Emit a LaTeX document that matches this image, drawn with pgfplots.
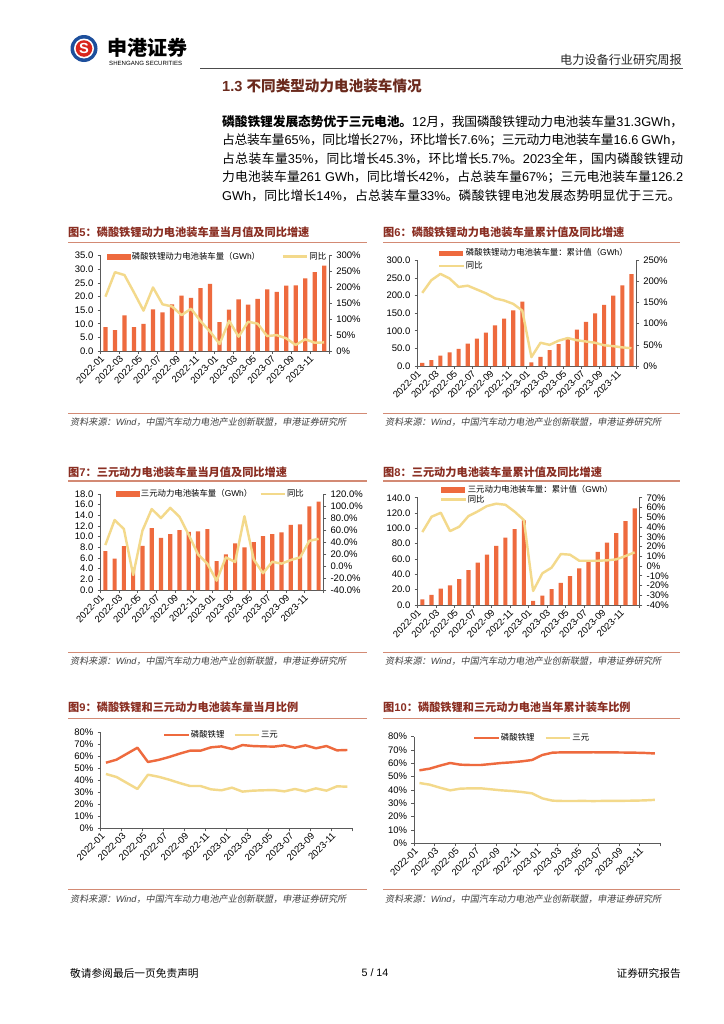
\documentclass[border=0pt]{standalone}
\usepackage{fontspec}
\setmainfont{Liberation Sans}
\newfontfamily\cjkup{Noto Sans CJK SC}
\newfontfamily\cjksl[FakeSlant=0.18]{Noto Sans CJK SC}
\usepackage{pgfplots}
\pgfplotsset{compat=1.18}
\usepackage{pgfplotstable}

% switch to the CJK font for CJK characters, back to Liberation Sans otherwise
\XeTeXinterchartokenstate=1
\newXeTeXintercharclass\cjkcls
\newcount\cjkcnt
\cjkcnt="2E80 \loop\XeTeXcharclass\cjkcnt=\cjkcls\advance\cjkcnt by 1 \ifnum\cjkcnt<"A000 \repeat
\cjkcnt="FF00 \loop\XeTeXcharclass\cjkcnt=\cjkcls\advance\cjkcnt by 1 \ifnum\cjkcnt<"FFF0 \repeat
\def\cjkfont{\cjkup}
\def\latfont{\rmfamily}
\XeTeXinterchartoks 0 \cjkcls={\cjkfont}
\XeTeXinterchartoks 4095 \cjkcls={\cjkfont}
\XeTeXinterchartoks \cjkcls 0={\latfont}
\XeTeXinterchartoks 4095 0={\latfont}
\XeTeXinterchartoks \cjkcls \cjkcls={\hskip0pt plus .08em minus .05em}

\definecolor{barc}{HTML}{EE6A3E}
\definecolor{yc}{HTML}{F3D98B}
\definecolor{titc}{HTML}{8A2E22}
\definecolor{rulec}{HTML}{D38A74}
\definecolor{axc}{HTML}{5A5A5A}
\definecolor{secc}{HTML}{6B2A1D}
\definecolor{logob}{HTML}{1D4F9C}
\definecolor{logor}{HTML}{D9261C}

\newcommand\fsz[1]{\fontsize{#1bp}{#1bp}\selectfont}
\newcommand\tickf{\fsz{7.8}}
\newcommand\legf{\fsz{6.9}}
\newcommand\src{{\let\cjkfont\cjksl\itshape 资料来源：Wind，中国汽车动力电池产业创新联盟，申港证券研究所}}

\pgfplotsset{
  pg/.style={scale only axis, anchor=south west, xmin=-0.5, xmax=23.5, enlargelimits=false,
    axis line style={axc, line width=0.6bp}, every tick/.style={axc, line width=0.6bp},
    tick align=outside, major tick length=2.5bp, minor tick length=2.5bp,
    tick label style={font=\tickf}, /pgf/number format/assume math mode=true,
    xtick={0,2,...,22},
    xticklabels={2022-01,2022-03,2022-05,2022-07,2022-09,2022-11,2023-01,2023-03,2023-05,2023-07,2023-09,2023-11},
    xticklabel style={rotate=45, anchor=east},
    major x tick style={draw=none}, minor xtick={-0.5,1.5,...,23.5},
    legend style={draw=none, fill=none, font=\legf, inner sep=0pt, nodes={inner sep=0.8bp}},
    legend cell align=left},
  barleg/.style={legend image code/.code={\fill[barc] (0bp,-2bp) rectangle (19bp,2bp);}},
  lineleg/.style={legend image code/.code={\draw (0bp,0bp) -- (20bp,0bp);}},
}

% LFP monthly (GWh) and YoY (%)
\pgfplotstableread{
x b l
0 8.8 171
1 7.7 248
2 13.1 239
3 8.8 184
4 10.0 127
5 15.3 200
6 14.2 147
7 17.1 140
8 20.3 113
9 19.5 133
10 23.1 94
11 24.6 61
12 10.6 22
13 15.2 95
14 19.0 45
15 17.0 92
16 19.1 86
17 22.6 47
18 21.7 50
19 24.0 40
20 24.1 19
21 26.7 37
22 29.0 26
23 31.3 27
}\tA
% LFP cumulative
\pgfplotstableread{
x b l
0 8.8 173
1 16.5 203
2 29.6 218
3 38.4 207
4 48.4 187
5 63.7 190
6 77.9 181
7 95.0 172
8 115.3 160
9 134.8 155
10 157.9 147
11 182.5 131
12 10.6 21
13 25.8 55
14 44.8 50
15 61.8 60
16 80.9 66
17 103.5 61
18 125.2 58
19 149.2 55
20 173.3 49
21 200.0 47
22 229.0 44
23 261.0 42
}\tB
% NCM monthly
\pgfplotstableread{
x b l
0 7.3 35
1 5.9 76.7
2 8.25 61.7
3 4.2 -15
4 8.3 59
5 11.6 95
6 9.8 80
7 10.5 97
8 11.25 82
9 10.9 51.7
10 11.0 19.4
11 11.4 3.9
12 5.4 -24.4
13 6.7 14.4
14 8.75 6.7
15 8.0 83
16 9.0 11
17 10.1 -12
18 10.5 7
19 10.8 4
20 12.2 10
21 12.3 14.4
22 15.7 42
23 16.6 45.3
}\tC
% NCM cumulative
\pgfplotstableread{
x b l
0 7.3 34.8
1 13.2 50.5
2 21.45 54.6
3 25.6 35.8
4 33.9 40.3
5 45.5 51.2
6 55.3 56
7 65.8 61.5
8 77.05 63.9
9 87.95 62.8
10 98.95 55.7
11 110.35 47.1
12 5.4 -25.6
13 12.1 -7.5
14 20.85 -1.7
15 28.85 12.3
16 37.85 11.6
17 47.95 5.4
18 58.45 5.4
19 69.25 5.4
20 81.45 5.8
21 93.75 6.8
22 109.45 10.2
23 126.2 14
}\tD
% monthly share (%)
\pgfplotstableread{
x a b
0 54.7 45.3
1 57.2 42.8
2 62.2 37.8
3 67.2 32.8
4 55.3 44.7
5 57.0 43.0
6 59.4 40.6
7 62.2 37.8
8 64.7 35.3
9 64.7 35.3
10 67.5 32.5
11 68.3 31.7
12 66.1 33.9
13 69.4 30.6
14 68.6 31.4
15 68.3 31.7
16 68.1 31.9
17 69.2 30.8
18 67.2 32.8
19 69.2 30.8
20 66.7 33.3
21 68.6 31.4
22 65.0 35.0
23 65.3 34.7
}\tE
% cumulative share (%)
\pgfplotstableread{
x a b
0 54.75 45.25
1 56.0 44.0
2 58.25 41.75
3 60.25 39.75
4 59.0 41.0
5 58.75 41.25
6 58.75 41.25
7 59.5 40.5
8 60.25 39.75
9 60.75 39.25
10 61.5 38.5
11 62.5 37.5
12 66.25 33.75
13 68.0 32.0
14 68.25 31.75
15 68.25 31.75
16 68.2 31.8
17 68.3 31.7
18 68.2 31.8
19 68.2 31.8
20 68.1 31.9
21 68.0 32.0
22 67.8 32.2
23 67.4 32.6
}\tF

\begin{document}
\begin{tikzpicture}[x=0.8223bp, y=0.8223bp]
\fill[white] (0,0) rectangle (724,-1024);
\path[use as bounding box] (0,0) rectangle (724,-1024);

% header
\fill[logob] (84,-48.5) circle (13.5);
\fill[white] (84,-48.5) circle (10);
\fill[logor] (84,-48.5) circle (8.3);
\node[text=white, font=\bfseries\fsz{12}, inner sep=0] at (84,-48.5) {S};
\node[anchor=west, font=\bfseries\fsz{16.5}, inner sep=0] at (107,-47.5) {申港证券};
\node[anchor=west, font=\fsz{5}, inner sep=0] at (109,-63) {SHENGANG SECURITIES};
\draw[black!70, line width=0.6bp] (200,-68) -- (683,-68);
\node[anchor=east, font=\fsz{10}, text=black!85, inner sep=0] at (682,-60) {电力设备行业研究周报};

% section
\node[anchor=west, font=\bfseries\fsz{12}, text=secc, inner sep=0] at (222,-86) {1.3 不同类型动力电池装车情况};
\begin{scope}[every node/.style={anchor=west, font=\fsz{10.5}, inner sep=0}]
\node at (222,-122) {\hbox to 379bp{{\bfseries 磷酸铁锂发展态势优于三元电池。}12月，我国磷酸铁锂动力电池装车量31.3GWh，}};
\node at (222,-140.5) {\hbox to 379bp{占总装车量65\%，同比增长27\%，环比增长7.6\%；三元动力电池装车量16.6 GWh，}};
\node at (222,-159) {\hbox to 379bp{占总装车量35\%，同比增长45.3\%，环比增长5.7\%。2023全年，国内磷酸铁锂动}};
\node at (222,-177.5) {\hbox to 379bp{力电池装车量261 GWh，同比增长42\%，占总装车量67\%；三元电池装车量126.2}};
\node at (222,-196) {\hbox to 377bp{GWh，同比增长14\%，占总装车量33\%。磷酸铁锂电池发展态势明显优于三元。}};
\end{scope}

% figure titles, rules and sources
\begin{scope}[every node/.style={anchor=west, inner sep=0}]
\node[font=\bfseries\fsz{9.2}, text=titc] at (68,-232.5) {图5：磷酸铁锂动力电池装车量当月值及同比增速};
\node[font=\bfseries\fsz{9.2}, text=titc] at (383,-232.5) {图6：磷酸铁锂动力电池装车量累计值及同比增速};
\node[font=\bfseries\fsz{9.2}, text=titc] at (68,-472.5) {图7：三元动力电池装车量当月值及同比增速};
\node[font=\bfseries\fsz{9.2}, text=titc] at (383,-472.5) {图8：三元动力电池装车量累计值及同比增速};
\node[font=\bfseries\fsz{9.2}, text=titc] at (68,-707.5) {图9：磷酸铁锂和三元动力电池装车量当月比例};
\node[font=\bfseries\fsz{9.2}, text=titc] at (383,-707.5) {图10：磷酸铁锂和三元动力电池当年累计装车比例};
\node[font=\fsz{7.5}, text=black!75] at (70,-422.5) {\src};
\node[font=\fsz{7.5}, text=black!75] at (385,-422.5) {\src};
\node[font=\fsz{7.5}, text=black!75] at (70,-661.5) {\src};
\node[font=\fsz{7.5}, text=black!75] at (385,-661.5) {\src};
\node[font=\fsz{7.5}, text=black!75] at (70,-899) {\src};
\node[font=\fsz{7.5}, text=black!75] at (385,-899) {\src};
\end{scope}
\foreach \yy in {242.5,481,718.3} {
  \draw[rulec, line width=1.3bp] (68,-\yy) -- (367,-\yy);
  \draw[rulec, line width=1.3bp] (383,-\yy) -- (680,-\yy);
}
\foreach \yy in {413,652,889.5} {
  \draw[rulec, line width=0.8bp] (68,-\yy) -- (367,-\yy);
  \draw[rulec, line width=0.8bp] (383,-\yy) -- (680,-\yy);
}

% Fig 5
\begin{axis}[pg, at={(82.81bp,-288.63bp)}, width=187.7bp, height=78.4bp, ymin=0, ymax=35, ytick={0,5,...,35},
  axis x line*=bottom, axis y line*=left,
  yticklabel={\pgfmathprintnumber[fixed,fixed zerofill,precision=1]{\tick}}]
\addplot[ybar, bar width=0.45, fill=barc, draw=none] table[x=x,y=b]{\tA};
\end{axis}
\begin{axis}[pg, at={(82.81bp,-288.63bp)}, width=187.7bp, height=78.4bp, ymin=0, ymax=300, ytick={0,50,...,300},
  axis x line=none, axis y line*=right,
  yticklabel={\pgfmathprintnumber[fixed,precision=0]{\tick}\%},
  legend columns=2, legend style={at={(0.028,0.99)}, anchor=west, /tikz/every even column/.append style={column sep=17bp}}]
\addlegendimage{barleg}\addlegendentry{磷酸铁锂动力电池装车量（GWh）}
\addplot[yc, line width=2bp, line join=round, lineleg] table[x=x,y=l]{\tA};
\addlegendentry{同比}
\end{axis}

% Fig 6
\begin{axis}[pg, at={(343.48bp,-300.96bp)}, width=179.5bp, height=86.9bp, ymin=0, ymax=300, ytick={0,50,...,300},
  axis x line*=bottom, axis y line*=left,
  yticklabel={\pgfmathprintnumber[fixed,fixed zerofill,precision=1]{\tick}}]
\addplot[ybar, bar width=0.45, fill=barc, draw=none] table[x=x,y=b]{\tB};
\end{axis}
\begin{axis}[pg, at={(343.48bp,-300.96bp)}, width=179.5bp, height=86.9bp, ymin=0, ymax=250, ytick={0,50,...,250},
  axis x line=none, axis y line*=right,
  yticklabel={\pgfmathprintnumber[fixed,precision=0]{\tick}\%},
  legend columns=1, legend style={at={(0.093,1.008)}, anchor=west, row sep=1.5bp}]
\addlegendimage{barleg}\addlegendentry{磷酸铁锂动力电池装车量：累计值（GWh）}
\addplot[yc, line width=2bp, line join=round, lineleg] table[x=x,y=l]{\tB};
\addlegendentry{同比}
\end{axis}

% Fig 7
\begin{axis}[pg, at={(82.81bp,-485.16bp)}, width=183bp, height=78.9bp, ymin=0, ymax=18, ytick={0,2,...,18},
  axis x line*=bottom, axis y line*=left,
  yticklabel={\pgfmathprintnumber[fixed,fixed zerofill,precision=1]{\tick}}]
\addplot[ybar, bar width=0.45, fill=barc, draw=none] table[x=x,y=b]{\tC};
\end{axis}
\begin{axis}[pg, at={(82.81bp,-485.16bp)}, width=183bp, height=78.9bp, ymin=-40, ymax=120, ytick={-40,-20,...,120},
  axis x line=none, axis y line*=right,
  yticklabel={\pgfmathprintnumber[fixed,fixed zerofill,precision=1]{\tick}\%},
  legend columns=2, legend style={at={(0.069,1.0)}, anchor=west, /tikz/every even column/.append style={column sep=5bp}}]
\addlegendimage{barleg}\addlegendentry{三元动力电池装车量（GWh）}
\addplot[yc, line width=2bp, line join=round, lineleg] table[x=x,y=l]{\tC};
\addlegendentry{同比}
\end{axis}

% Fig 8
\begin{axis}[pg, at={(343.48bp,-497.49bp)}, width=182.2bp, height=88.2bp, ymin=0, ymax=140, ytick={0,20,...,140},
  axis x line*=bottom, axis y line*=left,
  yticklabel={\pgfmathprintnumber[fixed,fixed zerofill,precision=1]{\tick}}]
\addplot[ybar, bar width=0.45, fill=barc, draw=none] table[x=x,y=b]{\tD};
\end{axis}
\begin{axis}[pg, at={(343.48bp,-497.49bp)}, width=182.2bp, height=88.2bp, ymin=-40, ymax=70, ytick={-40,-30,...,70},
  axis x line=none, axis y line*=right,
  yticklabel={\pgfmathprintnumber[fixed,precision=0]{\tick}\%},
  legend columns=1, legend style={at={(0.10,1.03)}, anchor=west, row sep=-0.5bp}]
\addlegendimage{barleg}\addlegendentry{三元动力电池装车量：累计值（GWh）}
\addplot[yc, line width=2bp, line join=round, lineleg] table[x=x,y=l]{\tD};
\addlegendentry{同比}
\end{axis}

% Fig 9
\begin{axis}[pg, at={(82.81bp,-681.11bp)}, width=207.2bp, height=78.9bp, ymin=0, ymax=80, ytick={0,10,...,80},
  axis x line*=bottom, axis y line*=left,
  yticklabel={\pgfmathprintnumber[fixed,precision=0]{\tick}\%},
  legend columns=2, legend style={at={(0.247,0.972)}, anchor=west, /tikz/every even column/.append style={column sep=6.5bp}}]
\addplot[barc, line width=2bp, line join=round, lineleg] table[x=x,y=a]{\tE};
\addlegendentry{磷酸铁锂}
\addplot[yc, line width=2bp, line join=round, lineleg] table[x=x,y=b]{\tE};
\addlegendentry{三元}
\end{axis}

% Fig 10
\begin{axis}[pg, at={(340.68bp,-693.45bp)}, width=202bp, height=87.7bp, ymin=0, ymax=80, ytick={0,10,...,80},
  axis x line*=bottom, axis y line*=left,
  yticklabel={\pgfmathprintnumber[fixed,precision=0]{\tick}\%},
  legend columns=2, legend style={at={(0.239,0.985)}, anchor=west, /tikz/every even column/.append style={column sep=7.5bp}}]
\addplot[barc, line width=2bp, line join=round, lineleg] table[x=x,y=a]{\tF};
\addlegendentry{磷酸铁锂}
\addplot[yc, line width=2bp, line join=round, lineleg] table[x=x,y=b]{\tF};
\addlegendentry{三元}
\end{axis}

% footer
\node[anchor=west, font=\fsz{8.8}, inner sep=0] at (70,-973) {敬请参阅最后一页免责声明};
\node[font=\fsz{8.8}, inner sep=0] at (375,-973) {5 / 14};
\node[anchor=east, font=\fsz{8.8}, inner sep=0] at (681,-973) {证券研究报告};
\end{tikzpicture}
\end{document}
